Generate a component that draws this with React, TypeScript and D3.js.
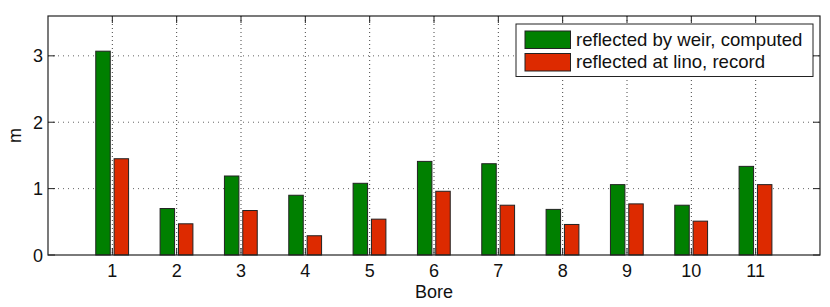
import React from 'react';
import * as d3 from 'd3';

// values
const bores = [1, 2, 3, 4, 5, 6, 7, 8, 9, 10, 11];
const weirComputed = [3.07, 0.70, 1.19, 0.90, 1.08, 1.41, 1.375, 0.687, 1.06, 0.75, 1.335];
const linoRecord = [1.45, 0.47, 0.67, 0.29, 0.54, 0.96, 0.75, 0.46, 0.77, 0.51, 1.06];
const yTicks = [0, 1, 2, 3];
const seriesNames = ['reflected by weir, computed', 'reflected at lino, record'];
const seriesColours = ['#008000', '#dd2a00'];

const W = 830;
const H = 307;
const left = 48;
const right = 820;
const top = 16;
const bottom = 255;

const App = () => {
  const x = d3.scaleLinear().domain([0, 12]).range([left, right]);
  const y = d3.scaleLinear().domain([0, 3.6]).range([bottom, top]);
  const barW = 0.225;
  const offsets = [-0.145, 0.14];
  const series = [weirComputed, linoRecord];
  const font = 'Liberation Sans, Arial, Helvetica, sans-serif';

  return (
    <svg width={W} height={H} style={{position: 'absolute', left: 0, top: 0}} fontFamily={font}>
      <rect x={0} y={0} width={W} height={H} fill="#fff" />
      {/* grid */}
      {bores.map((b) => (
        <line key={'gx' + b} x1={x(b)} x2={x(b)} y1={top} y2={bottom} stroke="#444" strokeWidth={1} strokeDasharray="1,3" />
      ))}
      {yTicks.filter((t) => t > 0).map((t) => (
        <line key={'gy' + t} x1={left} x2={right} y1={y(t)} y2={y(t)} stroke="#666" strokeWidth={1} strokeDasharray="1,4" />
      ))}
      {/* bars */}
      {series.map((vals, si) =>
        vals.map((v, i) => {
          const cx = bores[i] + offsets[si];
          const x0 = x(cx - barW / 2);
          return (
            <rect key={si + '-' + i} x={x0} y={y(v)} width={x(cx + barW / 2) - x0} height={y(0) - y(v)}
              fill={seriesColours[si]} stroke="#222" strokeWidth={1} />
          );
        })
      )}
      {/* ticks (inward) */}
      {bores.map((b) => (
        <g key={'tx' + b} stroke="#222" strokeWidth={1}>
          <line x1={x(b)} x2={x(b)} y1={bottom} y2={bottom - 7} />
          <line x1={x(b)} x2={x(b)} y1={top} y2={top + 7} />
        </g>
      ))}
      {yTicks.map((t) => (
        <g key={'ty' + t} stroke="#222" strokeWidth={1}>
          <line x1={left} x2={left + 7} y1={y(t)} y2={y(t)} />
          <line x1={right} x2={right - 7} y1={y(t)} y2={y(t)} />
        </g>
      ))}
      {/* frame */}
      <rect x={left} y={top} width={right - left} height={bottom - top} fill="none" stroke="#222" strokeWidth={1.2} />
      {/* tick labels */}
      {bores.map((b) => (
        <text key={'lx' + b} x={x(b)} y={bottom + 22} fontSize={18} textAnchor="middle" fill="#111">{b}</text>
      ))}
      {yTicks.map((t) => (
        <text key={'ly' + t} x={left - 5} y={y(t) + 6.5} fontSize={18} textAnchor="end" fill="#111">{t}</text>
      ))}
      <text x={(left + right) / 2} y={bottom + 43} fontSize={18} textAnchor="middle" fill="#111">Bore</text>
      <text transform={`translate(21, ${(top + bottom) / 2}) rotate(-90)`} fontSize={18} textAnchor="middle" fill="#111">m</text>
      {/* legend */}
      <rect x={516} y={24} width={297} height={52.5} fill="#fff" stroke="#222" strokeWidth={1} />
      {seriesNames.map((name, i) => (
        <g key={name}>
          <rect x={525} y={31 + i * 22.5} width={45.5} height={17.5} fill={seriesColours[i]} stroke="#222" strokeWidth={1} />
          <text x={576} y={45.5 + i * 22.5} fontSize={18.6} fill="#111">{name}</text>
        </g>
      ))}
    </svg>
  );
};

export default App;
